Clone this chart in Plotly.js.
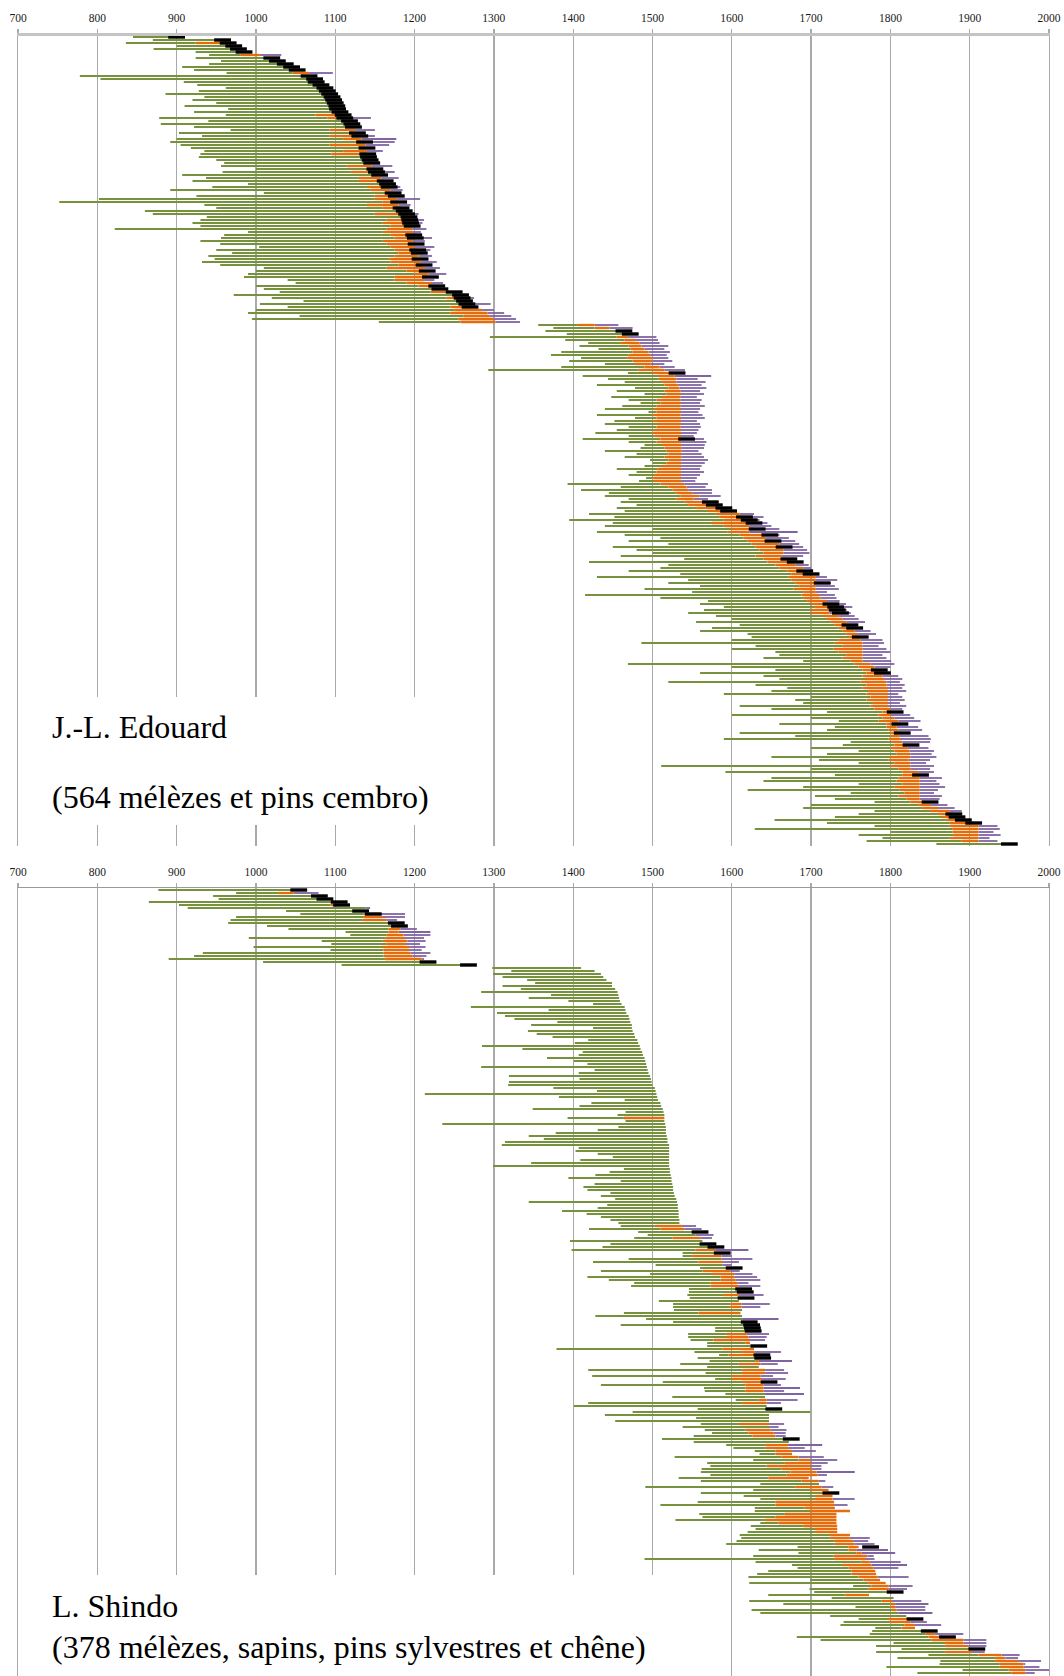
<!DOCTYPE html>
<html><head><meta charset="utf-8">
<script src="https://cdn.plot.ly/plotly-3.0.1.min.js"></script>
<style>html,body{margin:0;padding:0;background:#fff}#chart{width:1064px;height:1676px}</style>
</head><body><div id="chart"></div><script>
// ---------- Upper panel: J.-L. Edouard (one row per series, top to bottom) ----------
// first ring year
const topStart = [
845,870,836,900,871,924,941,924,956,941,
907,922,963,778,804,909,926,962,928,886,
935,920,950,910,965,922,962,878,940,880,
922,968,903,932,900,892,905,918,935,930,
928,950,960,956,1000,958,907,937,920,990,
945,892,1010,925,802,752,935,950,860,870,
938,930,920,930,822,990,960,956,930,955,
1004,950,970,940,948,932,955,1010,1000,990,
985,1040,1050,1000,1010,1030,972,1020,1060,1005,
1040,1000,990,1055,995,1155,1356,1375,1365,1392,
1295,1390,1419,1408,1432,1385,1372,1410,1395,1440,
1385,1293,1469,1412,1444,1465,1430,1478,1455,1490,
1448,1470,1485,1462,1440,1495,1430,1478,1452,1440,
1470,1455,1428,1470,1412,1470,1490,1485,1440,1480,
1465,1497,1500,1490,1455,1480,1470,1492,1483,1393,
1460,1410,1445,1440,1470,1460,1480,1455,1465,1420,
1452,1395,1450,1440,1500,1430,1465,1510,1470,1520,
1450,1480,1500,1460,1540,1420,1520,1510,1470,1535,
1430,1545,1520,1560,1490,1550,1415,1510,1570,1560,
1590,1565,1545,1580,1600,1555,1610,1575,1560,1620,
1625,1600,1486,1630,1600,1655,1660,1640,1690,1469,
1600,1655,1560,1640,1660,1520,1630,1670,1650,1590,
1700,1680,1690,1610,1650,1720,1600,1700,1735,1660,
1730,1720,1610,1680,1590,1750,1740,1700,1760,1720,
1650,1710,1760,1511,1700,1592,1730,1650,1640,1760,
1690,1620,1750,1705,1730,1780,1700,1690,1780,1760,
1730,1654,1720,1780,1629,1800,1760,1790,1770,1858];
// first sapwood ring (0 = none)
const topSap = [
0,0,924,0,0,0,981,0,0,0,
0,0,1046,0,0,0,0,0,0,0,
0,0,0,0,0,0,1075,1090,0,0,
0,1093,0,1093,1110,1125,1093,0,1110,1095,
0,0,0,1115,0,1120,0,1130,1130,0,
1140,1145,0,1150,1150,1160,1140,1160,0,1150,
0,1165,1160,1170,1165,1160,1170,1175,1160,1165,
1170,1175,1180,1175,1168,1170,1180,1165,1190,1200,
1175,1175,1190,1205,0,1220,0,1240,0,0,
1245,1250,1245,1262,1255,1258,1406,1427,0,0,
1455,1465,1459,1470,1472,1475,1470,1468,1475,1478,
1490,1482,1500,1507,1508,1512,1515,1520,1515,1518,
1512,1505,1510,1505,1502,1505,1500,1505,1500,1507,
1505,1502,1500,1503,1510,1505,1512,1515,1518,1520,
1515,1520,1518,1512,1506,1505,1502,1500,1502,1510,
1520,1525,1530,1535,1530,1540,1545,1555,1570,1580,
1585,1590,1575,1590,1600,1595,1610,1615,1620,1625,
1630,1635,1640,1630,1640,1645,1655,1660,1670,1675,
1672,1675,1680,1685,1678,1690,1688,1690,1695,1700,
1705,1700,1700,1715,1720,1725,1730,1735,1740,1745,
1748,1735,1730,1740,1728,1735,1745,1740,1750,1755,
1760,1765,1770,1765,1768,1762,1770,1765,1772,1770,
1775,1770,1778,1775,1780,1790,1785,1790,1785,1795,
1795,1798,1800,1800,1798,1802,1805,1800,1805,1808,
1800,1798,1805,1800,1810,1815,1815,1810,1808,1815,
1805,1812,1818,1810,1820,1825,1835,1840,1850,1860,
1865,1870,1875,1875,1878,1878,1880,1875,1890,0];
// last measured ring
const topEnd = [
900,958,962,972,978,985,1005,1018,1025,1035,
1043,1050,1067,1065,1070,1075,1080,1085,1088,1092,
1095,1097,1099,1100,1102,1104,1107,1115,1117,1120,
1122,1125,1128,1130,1133,1138,1138,1140,1140,1140,
1141,1143,1145,1146,1148,1150,1155,1158,1162,1165,
1167,1170,1172,1176,1178,1180,1180,1182,1186,1190,
1192,1193,1195,1196,1197,1198,1200,1200,1198,1202,
1200,1204,1205,1205,1206,1208,1210,1212,1215,1218,
1215,1212,1222,1228,1238,1245,1256,1260,1262,1265,
1270,1285,1292,1295,1300,1302,1427,1446,1462,1470,
1468,1478,1484,1486,1490,1495,1497,1500,1500,1498,
1509,1515,1522,1528,1530,1530,1532,1534,1535,1536,
1535,1535,1536,1535,1536,1536,1535,1536,1536,1536,
1535,1536,1536,1536,1536,1536,1536,1537,1537,1536,
1537,1536,1536,1536,1536,1536,1536,1536,1536,1540,
1543,1545,1550,1559,1552,1568,1572,1585,1596,1610,
1615,1620,1625,1622,1628,1622,1640,1643,1650,1660,
1662,1665,1665,1663,1672,1675,1680,1690,1693,1700,
1706,1706,1706,1706,1706,1706,1710,1712,1720,1725,
1728,1732,1723,1735,1740,1745,1745,1752,1755,1758,
1760,1762,1765,1765,1765,1765,1765,1765,1765,1775,
1780,1783,1788,1790,1792,1795,1795,1797,1797,1797,
1797,1797,1797,1797,1800,1800,1800,1805,1810,1812,
1808,1810,1812,1812,1812,1815,1820,1822,1824,1825,
1825,1823,1825,1825,1825,1835,1837,1837,1837,1837,
1837,1837,1837,1837,1837,1840,1850,1860,1875,1880,
1885,1895,1905,1911,1911,1911,1911,1911,1911,1950];
// estimated end of missing sapwood (0 = none)
const topEst = [
0,0,0,0,0,0,1032,0,0,0,
0,0,1097,0,0,0,0,0,0,0,
0,0,0,0,0,0,0,1145,0,0,
0,1150,0,1150,1177,1175,1168,0,1160,0,
0,0,0,1172,0,1175,0,1180,0,0,
1182,1185,0,0,1207,0,1195,0,0,1205,
0,1212,1210,0,1215,1208,0,1222,1213,0,
1225,1220,0,1222,1215,1228,0,1232,0,1240,
1230,1225,1236,0,0,0,0,1275,0,1296,
0,1300,1313,1322,1328,1333,1457,1475,0,0,
1505,1507,1509,1520,1515,1522,1518,1520,1525,1515,
1528,1541,0,1574,1557,1567,1562,1568,1560,1565,
1556,1562,1560,1566,1560,1558,1563,1566,1556,1560,
1561,1558,1556,1552,1565,1568,1566,1565,1558,1562,
1565,1570,1566,1562,1560,1565,1560,1556,1554,1570,
1567,1575,1575,1586,1570,1580,0,1600,0,1628,
1640,1635,1645,1650,1660,1683,1660,1672,1680,1685,
1690,1695,1698,1690,0,1690,1697,1700,0,0,
1720,1733,1725,1730,1735,1720,1730,1732,1736,1744,
1752,1745,1750,1755,1760,1768,0,0,1775,1782,
0,1790,1792,1785,1795,1800,1790,1795,1801,1805,
1800,0,0,1810,1815,1812,1818,1815,1820,1810,
1815,1818,1812,1820,1815,0,1825,1830,1838,0,
1835,1840,0,1848,1851,1850,0,1848,1855,1852,
1858,1850,1845,1855,1850,1855,0,1865,1858,1862,
1869,1860,1855,1865,1862,0,1872,1881,1890,0,
0,0,0,1935,1938,1930,1939,1925,1935,0];
// felling date with bark (0 = none)
const topBark = [
900,958,965,972,978,985,0,1020,1027,1037,
1045,1052,0,1067,1074,1076,1082,1087,1090,1093,
1096,1098,1100,1102,1103,1106,1110,1112,1118,1121,
1123,0,1128,1131,0,1137,0,1140,0,1141,
1142,1144,1146,0,1150,1152,1156,0,1163,1166,
1168,0,1173,1177,0,1180,0,1183,1187,1190,
1193,1194,1195,1197,0,0,1199,1201,0,1202,
0,1204,1206,0,1207,0,1212,0,1216,0,
1220,0,0,1228,1232,1250,1258,1260,1263,1266,
1270,0,0,0,0,0,0,0,1464,1472,
0,0,0,0,0,0,0,0,0,0,
0,0,1531,0,0,0,0,0,0,0,
0,0,0,0,0,0,0,0,0,0,
0,0,0,0,1543,0,0,0,0,0,
0,0,0,0,0,0,0,0,0,0,
0,0,0,0,0,1573,1578,1590,1596,0,
1616,1622,1628,0,1632,0,1648,0,1652,0,
1666,0,0,0,1672,1680,0,0,1692,1700,
0,0,1714,0,0,0,0,0,0,1725,
1731,1733,1737,0,0,0,1749,1755,0,0,
1762,0,0,0,0,0,0,0,0,0,
0,1786,1790,0,0,0,0,0,0,0,
0,0,0,0,0,1806,0,0,0,1812,
0,0,1815,0,0,0,1826,0,0,0,
0,0,0,0,0,0,1838,0,0,0,
0,0,0,0,0,1850,0,0,0,1880,
1884,1892,1905,0,0,0,0,0,0,1950];

// ---------- Lower panel: L. Shindo ----------
const botStart = [
877,975,946,953,865,903,914,1038,1056,975,
968,965,1014,1041,1113,1119,991,1083,1095,997,
1094,933,922,890,1009,1108,1298,1322,1299,1311,
1342,1352,1311,1334,1284,1372,1344,1394,1425,1271,
1369,1304,1314,1326,1380,1347,1425,1343,1354,1374,
1419,1402,1285,1336,1412,1407,1367,1401,1418,1284,
1427,1407,1319,1408,1319,1318,1375,1430,1213,1382,
1465,1423,1408,1349,1466,1456,1393,1466,1235,1457,
1431,1378,1344,1363,1314,1310,1407,1403,1431,1450,
1409,1347,1299,1464,1446,1428,1394,1460,1427,1413,
1418,1447,1435,1453,1344,1443,1431,1386,1417,1435,
1447,1457,1460,1420,1482,1494,1477,1396,1447,1437,
1398,1538,1538,1470,1425,1504,1560,1435,1497,1418,
1445,1477,1473,1546,1546,1544,1547,1508,1526,1526,
1527,1464,1428,1492,1526,1460,1579,1579,1545,1545,
1548,1569,1569,1379,1553,1584,1557,1572,1535,1569,
1419,1567,1424,1579,1513,1435,1565,1566,1592,1525,
1605,1419,1401,1557,1475,1440,1555,1453,1561,1538,
1566,1575,1552,1512,1552,1593,1602,1629,1635,1528,
1627,1569,1573,1562,1561,1573,1533,1561,1636,1491,
1627,1561,1615,1636,1557,1510,1629,1629,1559,1563,
1529,1636,1624,1630,1620,1610,1612,1606,1593,1683,
1634,1684,1627,1490,1630,1676,1683,1646,1632,1621,
1699,1622,1753,1698,1704,1646,1726,1622,1665,1756,
1625,1636,1724,1760,1741,1737,1781,1777,1774,1682,
1712,1804,1782,1814,1782,1848,1809,1863,1862,1795,
1891,1834];
const botSap = [
0,1028,0,0,0,1094,0,0,1136,1136,
1134,0,0,1167,1167,1165,1163,1160,1165,1159,
1161,1161,1161,1163,0,0,0,0,0,0,
0,0,0,0,0,0,0,0,0,0,
0,0,0,0,0,0,0,0,0,0,
0,0,0,0,0,0,0,0,0,0,
0,0,0,0,0,0,0,0,0,0,
0,0,0,0,0,0,1464,0,0,0,
0,0,0,0,0,0,0,0,0,0,
0,0,0,0,0,0,0,0,0,0,
0,0,0,0,0,0,0,0,0,0,
0,0,1503,1510,0,0,1525,0,0,0,
1554,0,1550,0,1558,0,0,1563,1575,1586,
1586,1573,1573,0,0,1589,0,0,1598,1598,
0,1558,0,0,0,0,0,0,1594,1594,
1577,1617,0,1588,1613,1596,0,1630,1609,0,
1613,1613,1600,1600,1613,1617,1617,1617,0,0,
1634,1613,0,0,0,0,0,0,1609,0,
1617,1621,1626,0,0,1642,1643,1655,1655,1663,
1684,1667,1644,1663,1674,1669,1646,1688,0,1680,
1699,0,1705,1705,1655,1655,1692,1699,1667,1655,
1642,1659,1690,1705,1705,1724,1724,1730,1730,1747,
1747,1757,1728,1730,1764,1739,1747,1751,1751,1760,
1766,1772,1776,1772,0,1743,0,1789,1800,1800,
1802,0,0,1797,1800,1818,1814,0,1844,1848,
1852,1869,1869,0,1869,1911,1932,1932,1938,1938,
1949,1953];
const botEnd = [
1050,1047,1078,1085,1100,1105,1138,1128,1157,1159,
1165,1172,1178,1182,1180,1186,1188,1191,1188,1193,
1193,1195,1197,1209,1212,1270,1410,1427,1435,1438,
1442,1449,1449,1453,1456,1457,1458,1459,1461,1465,
1466,1467,1470,1471,1472,1474,1474,1475,1477,1478,
1481,1482,1484,1485,1487,1488,1490,1491,1492,1493,
1494,1495,1497,1498,1499,1500,1503,1504,1505,1506,
1507,1510,1511,1513,1514,1515,1515,1515,1516,1517,
1517,1517,1518,1519,1519,1521,1521,1521,1521,1521,
1521,1521,1521,1522,1522,1523,1524,1524,1525,1526,
1526,1527,1528,1530,1531,1532,1532,1533,1533,1533,
1534,1534,1537,1540,1555,1554,1561,1563,1563,1573,
1579,1582,1587,1587,1589,1588,1596,1598,1603,1603,
1605,1607,1608,1609,1608,1609,1609,1609,1612,1612,
1613,1611,1613,1613,1613,1617,1620,1621,1619,1621,
1623,1623,1623,1628,1629,1630,1630,1634,1636,1634,
1642,1642,1636,1638,1638,1640,1640,1640,1642,1642,
1644,1644,1644,1644,1699,1647,1647,1647,1647,1647,
1649,1653,1655,1670,1672,1671,1671,1676,1676,1684,
1699,1700,1700,1701,1707,1708,1697,1709,1710,1713,
1722,1718,1727,1727,1729,1729,1730,1749,1732,1732,
1732,1732,1733,1733,1733,1749,1749,1753,1755,1760,
1757,1764,1771,1768,1774,1776,1779,1781,1782,1784,
1787,1794,1798,1798,1798,1773,1804,1802,1806,1806,
1808,1810,1820,1825,1825,1831,1831,1842,1856,1865,
1892,1892,1898,1902,1903,1940,1945,1961,1968,1968,
1970,1970];
const botEst = [
0,1079,0,0,0,0,1144,0,1188,1188,
1178,0,0,1203,1220,1220,1212,1214,1207,1214,
1209,1220,1215,1212,0,0,0,0,0,0,
0,0,0,0,0,0,0,0,0,0,
0,0,0,0,0,0,0,0,0,0,
0,0,0,0,0,0,0,0,0,0,
0,0,0,0,0,0,0,0,0,0,
0,0,0,0,0,0,0,0,0,0,
0,0,0,0,0,0,0,0,0,0,
0,0,0,0,0,0,0,0,0,0,
0,0,0,0,0,0,0,0,0,0,
0,0,1555,1562,0,1577,1575,0,0,0,
1621,0,1600,1626,1609,1600,0,1610,1626,1632,
1636,1621,1636,0,0,1640,0,0,1648,1636,
0,0,0,1659,0,0,0,0,1647,1644,
1642,0,0,0,1662,0,0,1676,1658,0,
1666,1671,1652,1668,0,1662,1686,1666,1691,0,
1683,1662,0,0,0,0,0,0,1666,1659,
1669,1668,1668,0,0,1714,1692,1706,0,1716,
1733,1721,1713,1713,1755,1720,0,1718,0,1728,
0,0,0,1755,0,1746,0,0,0,0,
0,0,0,0,0,0,1774,1772,1780,0,
1797,1806,1779,1780,1813,1821,1810,0,0,1823,
0,0,1828,1821,0,0,0,1839,1848,1844,
1844,1853,0,0,1846,1864,0,0,1892,0,
1921,1921,1921,0,1919,1963,1961,1990,1970,1988,
2002,1982];
const botBark = [
1054,0,1080,1087,1105,1108,0,1132,1148,0,
0,1177,1181,0,0,0,0,0,0,0,
0,0,0,0,1217,1268,0,0,0,0,
0,0,0,0,0,0,0,0,0,0,
0,0,0,0,0,0,0,0,0,0,
0,0,0,0,0,0,0,0,0,0,
0,0,0,0,0,0,0,0,0,0,
0,0,0,0,0,0,0,0,0,0,
0,0,0,0,0,0,0,0,0,0,
0,0,0,0,0,0,0,0,0,0,
0,0,0,0,0,0,0,0,0,0,
0,0,0,0,1560,0,0,0,1570,1580,
0,1588,0,0,0,0,1603,0,0,0,
0,0,0,1615,1617,0,1618,0,0,0,
0,0,0,0,1622,1625,1626,1627,0,0,
0,0,1634,0,0,1638,1639,0,0,0,
0,0,0,0,1647,0,0,0,0,0,
0,0,0,1653,0,0,0,0,0,0,
0,0,0,1675,0,0,0,0,0,0,
0,0,0,0,0,0,0,0,0,0,
0,1725,0,0,0,0,0,0,0,0,
0,0,0,0,0,0,0,0,0,1775,
0,0,0,0,0,0,0,0,0,0,
0,0,0,0,1806,0,0,0,0,0,
0,0,0,1831,0,0,0,1849,0,1872,
0,0,0,1909,0,0,0,0,0,0,
0,0];

const yearTicks = [700,800,900,1000,1100,1200,1300,1400,1500,1600,1700,1800,1900,2000];
const labelTop = ['J.-L. Edouard', '(564 mélèzes et pins cembro)'];
const labelBottom = ['L. Shindo', '(378 mélèzes, sapins, pins sylvestres et chêne)'];

[[topStart,topSap,topEnd,topEst,topBark],[botStart,botSap,botEnd,botEst,botBark]].forEach(function(g,k){
  g.forEach(function(a,m){ if(a.length!==g[0].length) throw new Error('length mismatch panel '+k+' array '+m+': '+a.length+' vs '+g[0].length); });
});

const GREEN='#76923c', ORANGE='#e46c0a', PURPLE='#8064a2', BLACK='#000000';

function build(S,P,E,Q,B,xa,ya){
  const g={x:[],y:[]}, o={x:[],y:[]}, p={x:[],y:[]}, k={x:[],y:[]};
  for(let i=0;i<S.length;i++){
    const gEnd = P[i] ? P[i] : E[i];
    g.x.push(S[i],gEnd,null); g.y.push(i,i,null);
    if(P[i]){ o.x.push(P[i],E[i],null); o.y.push(i,i,null); }
    if(Q[i]){ p.x.push(E[i],Q[i],null); p.y.push(i,i,null); }
    if(B[i]){ k.x.push(B[i]); k.y.push(i); }
  }
  const base={type:'scatter',xaxis:xa,yaxis:ya,hoverinfo:'skip',showlegend:false};
  return [
    Object.assign({},base,{mode:'lines',x:g.x,y:g.y,line:{color:GREEN,width:2}}),
    Object.assign({},base,{mode:'lines',x:p.x,y:p.y,line:{color:PURPLE,width:1.8}}),
    Object.assign({},base,{mode:'lines',x:o.x,y:o.y,line:{color:ORANGE,width:2.3}}),
    Object.assign({},base,{mode:'markers',x:k.x,y:k.y,marker:{symbol:'line-ew',size:12,color:BLACK,line:{color:BLACK,width:3.4}}})
  ];
}

const traces = build(topStart,topSap,topEnd,topEst,topBark,'x','y')
  .concat(build(botStart,botSap,botEnd,botEst,botBark,'x2','y2'));

const FONT = 'Liberation Serif, Times New Roman, serif';
function xAxis(anchor, lw, lc){
  return {anchor:anchor, side:'top', range:[700,2000], tickmode:'array', tickvals:yearTicks,
    ticktext:yearTicks.map(String), showgrid:true, gridcolor:'#a9a9a9', gridwidth:1.3,
    zeroline:false, showline:true, linecolor:lc, linewidth:lw, ticks:'outside', ticklen:4,
    tickwidth:1.3, tickcolor:'#a9a9a9', ticklabelstandoff:2,
    tickfont:{family:FONT,size:11.5,color:'#1a1a1a'}, fixedrange:true};
}
function yAxis(domain, range){
  return {domain:domain, range:range, showgrid:false, zeroline:false, showticklabels:false,
    ticks:'', showline:true, mirror:true, linecolor:'#a9a9a9', linewidth:1.3, fixedrange:true};
}

const H=1676, T=36, PH=H-T, L=18, PW=1064-18-15;
const px = v => (v-L)/PW;
const py = v => (H-v)/PH;

const layout = {
  width:1064, height:1676,
  margin:{l:18,r:15,t:36,b:0},
  paper_bgcolor:'#ffffff', plot_bgcolor:'#ffffff',
  showlegend:false,
  xaxis: xAxis('y',3,'#c4c4c4'),
  yaxis: yAxis([py(846),1],[269.667,-0.333]),
  xaxis2: xAxis('y2',1.5,'#9a9a9a'),
  yaxis2: yAxis([0,py(888)],[262,-0.667]),
  shapes:[
    {type:'rect',xref:'paper',yref:'paper',x0:px(28),x1:px(460),y0:py(825),y1:py(697),fillcolor:'#ffffff',line:{width:0},layer:'above'},
    {type:'rect',xref:'paper',yref:'paper',x0:px(28),x1:px(690),y0:py(1676),y1:py(1575),fillcolor:'#ffffff',line:{width:0},layer:'above'}
  ],
  annotations:[
    {text:labelTop[0],xref:'paper',yref:'paper',x:px(50),y:py(727),xanchor:'left',yanchor:'middle',showarrow:false,font:{family:FONT,size:32,color:'#000'}},
    {text:labelTop[1],xref:'paper',yref:'paper',x:px(50),y:py(797),xanchor:'left',yanchor:'middle',showarrow:false,font:{family:FONT,size:32,color:'#000'}},
    {text:labelBottom[0],xref:'paper',yref:'paper',x:px(50),y:py(1606),xanchor:'left',yanchor:'middle',showarrow:false,font:{family:FONT,size:32,color:'#000'}},
    {text:labelBottom[1],xref:'paper',yref:'paper',x:px(50),y:py(1647),xanchor:'left',yanchor:'middle',showarrow:false,font:{family:FONT,size:32,color:'#000'}}
  ]
};

Plotly.newPlot('chart', traces, layout, {staticPlot:true, displayModeBar:false});
</script></body></html>
